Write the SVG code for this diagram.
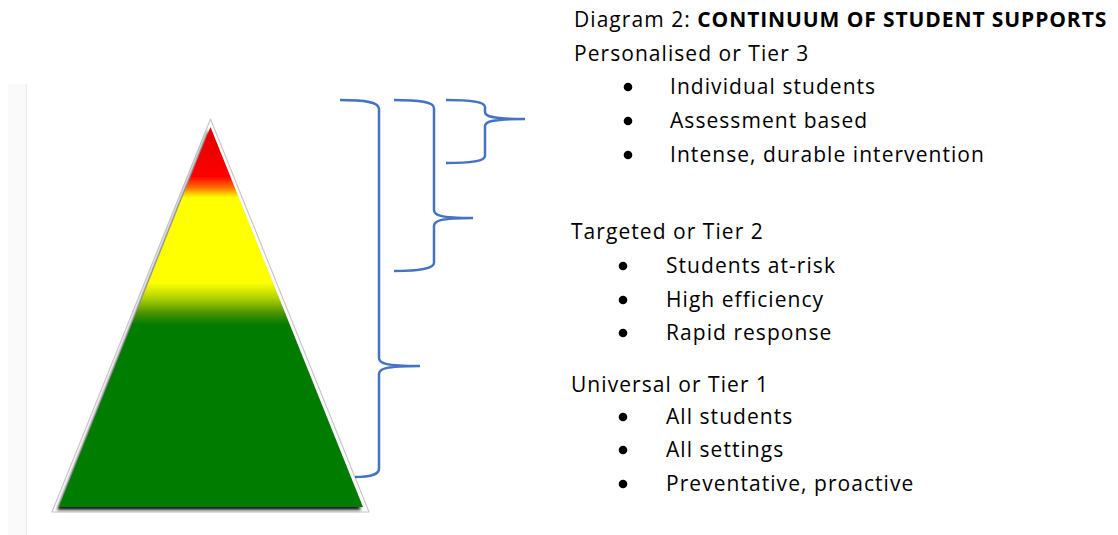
<svg xmlns="http://www.w3.org/2000/svg" width="1118" height="535" viewBox="0 0 1118 535">
  <style>
    .t { font-family: "Open Sans", Lato, sans-serif; font-size: 21px; letter-spacing: 1.05px; fill: #000; }
    .b { font-weight: bold; letter-spacing: 0.9px; }
    .br { fill: none; stroke: #4472c4; stroke-width: 2.5; stroke-linecap: butt; stroke-linejoin: round; }
    .dot { fill: #000; }
  </style>
  <defs>
    <linearGradient id="tierGrad" gradientUnits="userSpaceOnUse" x1="0" y1="127" x2="0" y2="507">
      <stop offset="0" stop-color="#e00000"/>
      <stop offset="0.09" stop-color="#f50000"/>
      <stop offset="0.13" stop-color="#ff0000"/>
      <stop offset="0.16" stop-color="#ff7000"/>
      <stop offset="0.185" stop-color="#ffff00"/>
      <stop offset="0.41" stop-color="#ffff00"/>
      <stop offset="0.45" stop-color="#b0d400"/>
      <stop offset="0.49" stop-color="#4a9200"/>
      <stop offset="0.52" stop-color="#007b00"/>
      <stop offset="1" stop-color="#007b00"/>
    </linearGradient>
    <filter id="shadow" x="-10%" y="-10%" width="120%" height="120%">
      <feGaussianBlur in="SourceAlpha" stdDeviation="1.6" result="blur"/>
      <feOffset in="blur" dx="-2.5" dy="3" result="off"/>
      <feComponentTransfer in="off" result="sh">
        <feFuncA type="linear" slope="0.9"/>
      </feComponentTransfer>
      <feMerge>
        <feMergeNode in="sh"/>
        <feMergeNode in="SourceGraphic"/>
      </feMerge>
    </filter>
    <filter id="soft" x="-10%" y="-10%" width="120%" height="120%">
      <feGaussianBlur stdDeviation="0.6"/>
    </filter>
  </defs>

  <rect x="0" y="0" width="1118" height="535" fill="#ffffff"/>
  <rect x="8" y="84" width="18" height="451" fill="#fafafa"/>
  <line x1="26.5" y1="84" x2="26.5" y2="535" stroke="#ececec" stroke-width="1"/>

  <g id="pyramid">
    <polygon points="210.5,119 52,512 369,512" fill="#ffffff" stroke="#c8c8c8" stroke-width="1.2" stroke-linejoin="round" filter="url(#soft)"/>
    <polygon points="210.5,127 59,507 363,507" fill="url(#tierGrad)" filter="url(#shadow)"/>
  </g>

  <g id="connectors">
    <path class="br" d="M340,100 C366,100 379,102 379,109 V358 C379,363 384,366 420,366 M420,366 C384,366 379,369 379,374 V469 C379,474 370,477 355,477"/>
    <path class="br" d="M394,100 C420,100 434,102 434,108 V210 C434,215 439,218 473,218 M473,218 C439,218 434,221 434,226 V263 C434,268 420,271 394,271"/>
    <path class="br" d="M446,100 C472,100 485,102 485,107 V112 C485,116 490,119 525,119 M525,119 C490,119 485,122 485,126 V156 C485,161 472,163 446,163"/>
  </g>

  <g id="title">
    <text class="t" x="574" y="27">Diagram 2: <tspan class="b">CONTINUUM OF STUDENT SUPPORTS</tspan></text>
  </g>

  <g id="tier3">
    <text class="t" x="574" y="61">Personalised or Tier 3</text>
    <circle class="dot" cx="628" cy="87" r="4.3"/>
    <text class="t" x="670" y="94">Individual students</text>
    <circle class="dot" cx="628" cy="121" r="4.3"/>
    <text class="t" x="670" y="128">Assessment based</text>
    <circle class="dot" cx="628" cy="155" r="4.3"/>
    <text class="t" x="670" y="162">Intense, durable intervention</text>
  </g>

  <g id="tier2">
    <text class="t" x="571" y="239">Targeted or Tier 2</text>
    <circle class="dot" cx="623" cy="266" r="4.3"/>
    <text class="t" x="666" y="273">Students at-risk</text>
    <circle class="dot" cx="623" cy="300" r="4.3"/>
    <text class="t" x="666" y="307">High efficiency</text>
    <circle class="dot" cx="623" cy="333" r="4.3"/>
    <text class="t" x="666" y="340">Rapid response</text>
  </g>

  <g id="tier1">
    <text class="t" x="571" y="392">Universal or Tier 1</text>
    <circle class="dot" cx="623" cy="417" r="4.3"/>
    <text class="t" x="666" y="424">All students</text>
    <circle class="dot" cx="623" cy="450" r="4.3"/>
    <text class="t" x="666" y="457">All settings</text>
    <circle class="dot" cx="623" cy="484" r="4.3"/>
    <text class="t" x="666" y="491">Preventative, proactive</text>
  </g>
</svg>
